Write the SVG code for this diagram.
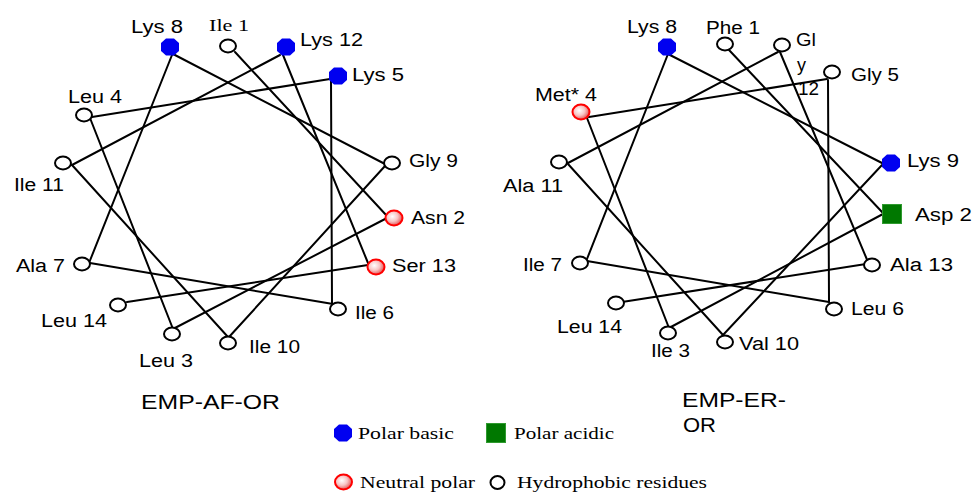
<svg xmlns="http://www.w3.org/2000/svg" xmlns:xlink="http://www.w3.org/1999/xlink" width="973" height="492" viewBox="0 0 973 492">
  <defs>
    <radialGradient id="gNeutral" cx="0.4" cy="0.4" r="0.65">
      <stop offset="0" stop-color="#ffffff"/>
      <stop offset="0.5" stop-color="#f8c4c4"/>
      <stop offset="1" stop-color="#e04848"/>
    </radialGradient>
    <polygon id="oct" points="-4,-8.5 4,-8.5 9,-4 9,4 4,8.5 -4,8.5 -9,4 -9,-4"/>
    <ellipse id="hyd" rx="8" ry="6.5"/>
    <ellipse id="neu" rx="8.5" ry="7.5"/>
    <rect id="sq" x="-9.5" y="-9.5" width="19" height="19"/>
  </defs>
  <style>
    .link { stroke: #000; stroke-width: 2; fill: none; stroke-linecap: round; }
    .hyd { fill: #fff; stroke: #000; stroke-width: 2; }
    .basic { fill: #0000f0; }
    .neutral { fill: url(#gNeutral); stroke: #ff0000; stroke-width: 2; }
    .acidic { fill: #007800; stroke: #2f9a2f; stroke-width: 1; }
    text { font-family: "Liberation Sans", Arial, sans-serif; font-size: 18px; fill: #000; }
    .serif { font-family: "Liberation Serif", "Times New Roman", serif; font-size: 17px; }
    .title { font-size: 20px; }
  </style>
  <rect width="973" height="492" fill="#fff"/>

  <!-- EMP-AF-OR helical wheel: connectors -->
  <g id="af-connectors" class="link">
    <line x1="235" y1="52" x2="387" y2="216"/>
    <line x1="387" y1="218" x2="173" y2="329"/>
    <line x1="173" y1="329" x2="90" y2="118"/>
    <line x1="92" y1="117" x2="330" y2="79"/>
    <line x1="331" y1="80" x2="332" y2="304"/>
    <line x1="333" y1="304" x2="90" y2="263"/>
    <line x1="89" y1="263" x2="172" y2="55"/>
    <line x1="173" y1="54" x2="385" y2="164"/>
    <line x1="385" y1="166" x2="229" y2="337"/>
    <line x1="228" y1="337" x2="72" y2="165"/>
    <line x1="72" y1="165" x2="280" y2="55"/>
    <line x1="283" y1="55" x2="368" y2="263"/>
    <line x1="368" y1="265" x2="127" y2="302"/>
  </g>

  <!-- EMP-AF-OR residues -->
  <g id="af-ile1"><use href="#hyd" class="hyd" x="228" y="46"/><text class="serif" x="209" y="31" textLength="40" lengthAdjust="spacingAndGlyphs">Ile 1</text></g>
  <g id="af-asn2"><use href="#neu" class="neutral" x="394" y="218"/><text x="411" y="224" textLength="54" lengthAdjust="spacingAndGlyphs">Asn 2</text></g>
  <g id="af-leu3"><use href="#hyd" class="hyd" x="172" y="334"/><text x="139" y="367" textLength="54" lengthAdjust="spacingAndGlyphs">Leu 3</text></g>
  <g id="af-leu4"><use href="#hyd" class="hyd" x="84" y="115"/><text x="68" y="103" textLength="54" lengthAdjust="spacingAndGlyphs">Leu 4</text></g>
  <g id="af-lys5"><use href="#oct" class="basic" x="338" y="76"/><text x="352" y="81" textLength="52" lengthAdjust="spacingAndGlyphs">Lys 5</text></g>
  <g id="af-ile6"><use href="#hyd" class="hyd" x="338" y="309"/><text x="355" y="319" textLength="39" lengthAdjust="spacingAndGlyphs">Ile 6</text></g>
  <g id="af-ala7"><use href="#hyd" class="hyd" x="82" y="264"/><text x="16" y="272" textLength="49" lengthAdjust="spacingAndGlyphs">Ala 7</text></g>
  <g id="af-lys8"><use href="#oct" class="basic" x="170" y="47"/><text x="131" y="33" textLength="52" lengthAdjust="spacingAndGlyphs">Lys 8</text></g>
  <g id="af-gly9"><use href="#hyd" class="hyd" x="392" y="163"/><text x="409" y="167" textLength="49" lengthAdjust="spacingAndGlyphs">Gly 9</text></g>
  <g id="af-ile10"><use href="#hyd" class="hyd" x="228" y="343"/><text x="249" y="353" textLength="51" lengthAdjust="spacingAndGlyphs">Ile 10</text></g>
  <g id="af-ile11"><use href="#hyd" class="hyd" x="63" y="163"/><text x="14" y="191" textLength="50" lengthAdjust="spacingAndGlyphs">Ile 11</text></g>
  <g id="af-lys12"><use href="#oct" class="basic" x="286" y="47"/><text x="300" y="46" textLength="63" lengthAdjust="spacingAndGlyphs">Lys 12</text></g>
  <g id="af-ser13"><use href="#neu" class="neutral" x="376" y="267"/><text x="392" y="272" textLength="64" lengthAdjust="spacingAndGlyphs">Ser 13</text></g>
  <g id="af-leu14"><use href="#hyd" class="hyd" x="118" y="305"/><text x="41" y="327" textLength="66" lengthAdjust="spacingAndGlyphs">Leu 14</text></g>

  <text id="af-title" class="title" x="141" y="409" textLength="139" lengthAdjust="spacingAndGlyphs">EMP-AF-OR</text>

  <!-- EMP-ER-OR helical wheel: connectors -->
  <g id="er-connectors" class="link">
    <line x1="729" y1="50" x2="883" y2="213"/>
    <line x1="883" y1="214" x2="669" y2="328"/>
    <line x1="669" y1="328" x2="587" y2="118"/>
    <line x1="589" y1="117" x2="827" y2="79"/>
    <line x1="828" y1="80" x2="829" y2="302"/>
    <line x1="829" y1="302" x2="587" y2="261"/>
    <line x1="587" y1="259" x2="668" y2="54"/>
    <line x1="668" y1="54" x2="882" y2="163"/>
    <line x1="882" y1="165" x2="723" y2="335"/>
    <line x1="723" y1="335" x2="568" y2="164"/>
    <line x1="568" y1="163" x2="778" y2="52"/>
    <line x1="780" y1="52" x2="868" y2="262"/>
    <line x1="866" y1="264" x2="622" y2="302"/>
  </g>

  <!-- EMP-ER-OR residues -->
  <g id="er-phe1"><use href="#hyd" class="hyd" x="725" y="44"/><text x="706" y="34" textLength="54" lengthAdjust="spacingAndGlyphs">Phe 1</text></g>
  <g id="er-asp2"><use href="#sq" class="acidic" x="892" y="214"/><text x="915" y="221" textLength="57" lengthAdjust="spacingAndGlyphs">Asp 2</text></g>
  <g id="er-ile3"><use href="#hyd" class="hyd" x="668" y="333"/><text x="651" y="357" textLength="39" lengthAdjust="spacingAndGlyphs">Ile 3</text></g>
  <g id="er-met4"><use href="#neu" class="neutral" x="581" y="112"/><text x="535" y="101" textLength="62" lengthAdjust="spacingAndGlyphs">Met* 4</text></g>
  <g id="er-gly5"><use href="#hyd" class="hyd" x="832" y="72"/><text x="851" y="81" textLength="48" lengthAdjust="spacingAndGlyphs">Gly 5</text></g>
  <g id="er-leu6"><use href="#hyd" class="hyd" x="834" y="309"/><text x="851" y="315" textLength="53" lengthAdjust="spacingAndGlyphs">Leu 6</text></g>
  <g id="er-ile7"><use href="#hyd" class="hyd" x="580" y="263"/><text x="523" y="271" textLength="39" lengthAdjust="spacingAndGlyphs">Ile 7</text></g>
  <g id="er-lys8"><use href="#oct" class="basic" x="667" y="47"/><text x="627" y="33" textLength="50" lengthAdjust="spacingAndGlyphs">Lys 8</text></g>
  <g id="er-lys9"><use href="#oct" class="basic" x="891" y="163"/><text x="907" y="167" textLength="52" lengthAdjust="spacingAndGlyphs">Lys 9</text></g>
  <g id="er-val10"><use href="#hyd" class="hyd" x="725" y="342"/><text x="739" y="350" textLength="60" lengthAdjust="spacingAndGlyphs">Val 10</text></g>
  <g id="er-ala11"><use href="#hyd" class="hyd" x="559" y="162"/><text x="503" y="192" textLength="60" lengthAdjust="spacingAndGlyphs">Ala 11</text></g>
  <g id="er-gly12"><use href="#hyd" class="hyd" x="782" y="45"/>
    <text x="796" y="46" textLength="20" lengthAdjust="spacingAndGlyphs">Gl</text>
    <text x="797" y="71">y</text>
    <text x="798" y="95" textLength="21" lengthAdjust="spacingAndGlyphs">12</text></g>
  <g id="er-ala13"><use href="#hyd" class="hyd" x="872" y="265"/><text x="890" y="271" textLength="63" lengthAdjust="spacingAndGlyphs">Ala 13</text></g>
  <g id="er-leu14"><use href="#hyd" class="hyd" x="616" y="303"/><text x="557" y="333" textLength="65" lengthAdjust="spacingAndGlyphs">Leu 14</text></g>

  <g id="er-title">
    <text class="title" x="682" y="407" textLength="104" lengthAdjust="spacingAndGlyphs">EMP-ER-</text>
    <text class="title" x="683" y="432" textLength="33" lengthAdjust="spacingAndGlyphs">OR</text>
  </g>

  <!-- Legend -->
  <g id="legend">
    <use href="#oct" class="basic" x="343" y="433"/>
    <text class="serif" x="358" y="439" textLength="96" lengthAdjust="spacingAndGlyphs">Polar basic</text>
    <use href="#sq" class="acidic" x="496" y="433"/>
    <text class="serif" x="514" y="439" textLength="100" lengthAdjust="spacingAndGlyphs">Polar acidic</text>
    <use href="#neu" class="neutral" x="343.5" y="482"/>
    <text class="serif" x="360" y="488" textLength="115" lengthAdjust="spacingAndGlyphs">Neutral polar</text>
    <ellipse class="hyd" cx="497.5" cy="482.5" rx="7" ry="6.5"/>
    <text class="serif" x="517" y="488" textLength="190" lengthAdjust="spacingAndGlyphs">Hydrophobic residues</text>
  </g>
</svg>
